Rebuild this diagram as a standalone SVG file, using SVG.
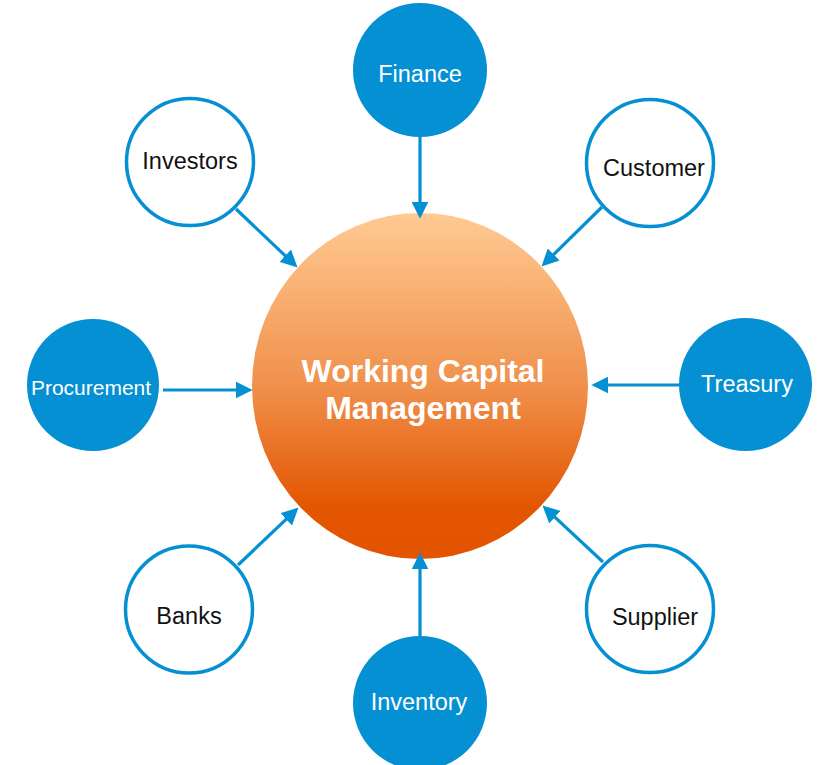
<svg xmlns="http://www.w3.org/2000/svg" width="822" height="765" viewBox="0 0 822 765">
  <defs>
    <linearGradient id="orangeGrad" x1="0" y1="0" x2="0" y2="1">
      <stop offset="0" stop-color="#FFCA92"/>
      <stop offset="0.5" stop-color="#F0904C"/>
      <stop offset="0.85" stop-color="#E35600"/>
      <stop offset="1" stop-color="#E35300"/>
    </linearGradient>
    <marker id="arrow" markerUnits="userSpaceOnUse" markerWidth="17" markerHeight="17" refX="6" refY="8" orient="auto" viewBox="0 0 16 16">
      <path d="M0,0 L16,8 L0,16 z" fill="#0590D3"/>
    </marker>
    <style>
      .filled { fill: #0590D3; }
      .outline { fill: #FFFFFF; stroke: #0590D3; stroke-width: 3.5; }
      .lbl { font-family: "Liberation Sans", Arial, sans-serif; font-size: 23.5px; text-anchor: middle; }
      .lbl-w { fill: #FFFFFF; }
      .lbl-b { fill: #111111; }
      .conn { stroke: #0590D3; stroke-width: 3.2; fill: none; marker-end: url(#arrow); }
      .title { font-family: "Liberation Sans", Arial, sans-serif; font-size: 32px; font-weight: bold; fill: #FFFFFF; text-anchor: middle; }
    </style>
  </defs>
  <rect width="822" height="765" fill="#FFFFFF"/>

  <g id="center">
    <ellipse cx="420" cy="386" rx="168" ry="173" fill="url(#orangeGrad)"/>
    <text class="title" x="423" y="382">Working Capital</text>
    <text class="title" x="423" y="419">Management</text>
  </g>

  <g id="connectors">
    <line class="conn" x1="420" y1="137" x2="420" y2="208"/>
    <line class="conn" x1="236" y1="209" x2="289.8" y2="260.1"/>
    <line class="conn" x1="602" y1="207" x2="549.1" y2="259"/>
    <line class="conn" x1="163" y1="390" x2="242" y2="390"/>
    <line class="conn" x1="679" y1="385" x2="602" y2="385"/>
    <line class="conn" x1="238" y1="565" x2="290.8" y2="514.9"/>
    <line class="conn" x1="603" y1="562" x2="550.3" y2="512.8"/>
    <line class="conn" x1="420" y1="636" x2="420" y2="563"/>
  </g>

  <g id="finance">
    <circle class="filled" cx="420" cy="70" r="67"/>
    <text class="lbl lbl-w" x="420" y="82">Finance</text>
  </g>
  <g id="investors">
    <circle class="outline" cx="190" cy="162" r="63.5"/>
    <text class="lbl lbl-b" x="190" y="169">Investors</text>
  </g>
  <g id="customer">
    <circle class="outline" cx="650" cy="163" r="63.5"/>
    <text class="lbl lbl-b" x="654" y="176">Customer</text>
  </g>
  <g id="procurement">
    <circle class="filled" cx="93" cy="385" r="66"/>
    <text class="lbl lbl-w" x="91" y="395" style="font-size:21px">Procurement</text>
  </g>
  <g id="treasury">
    <circle class="filled" cx="745.5" cy="384.5" r="66.5"/>
    <text class="lbl lbl-w" x="747" y="392">Treasury</text>
  </g>
  <g id="banks">
    <circle class="outline" cx="189" cy="609.5" r="63.5"/>
    <text class="lbl lbl-b" x="189" y="624">Banks</text>
  </g>
  <g id="supplier">
    <circle class="outline" cx="650" cy="609" r="63.5"/>
    <text class="lbl lbl-b" x="655" y="625">Supplier</text>
  </g>
  <g id="inventory">
    <circle class="filled" cx="420" cy="703" r="67"/>
    <text class="lbl lbl-w" x="419" y="710">Inventory</text>
  </g>
</svg>
